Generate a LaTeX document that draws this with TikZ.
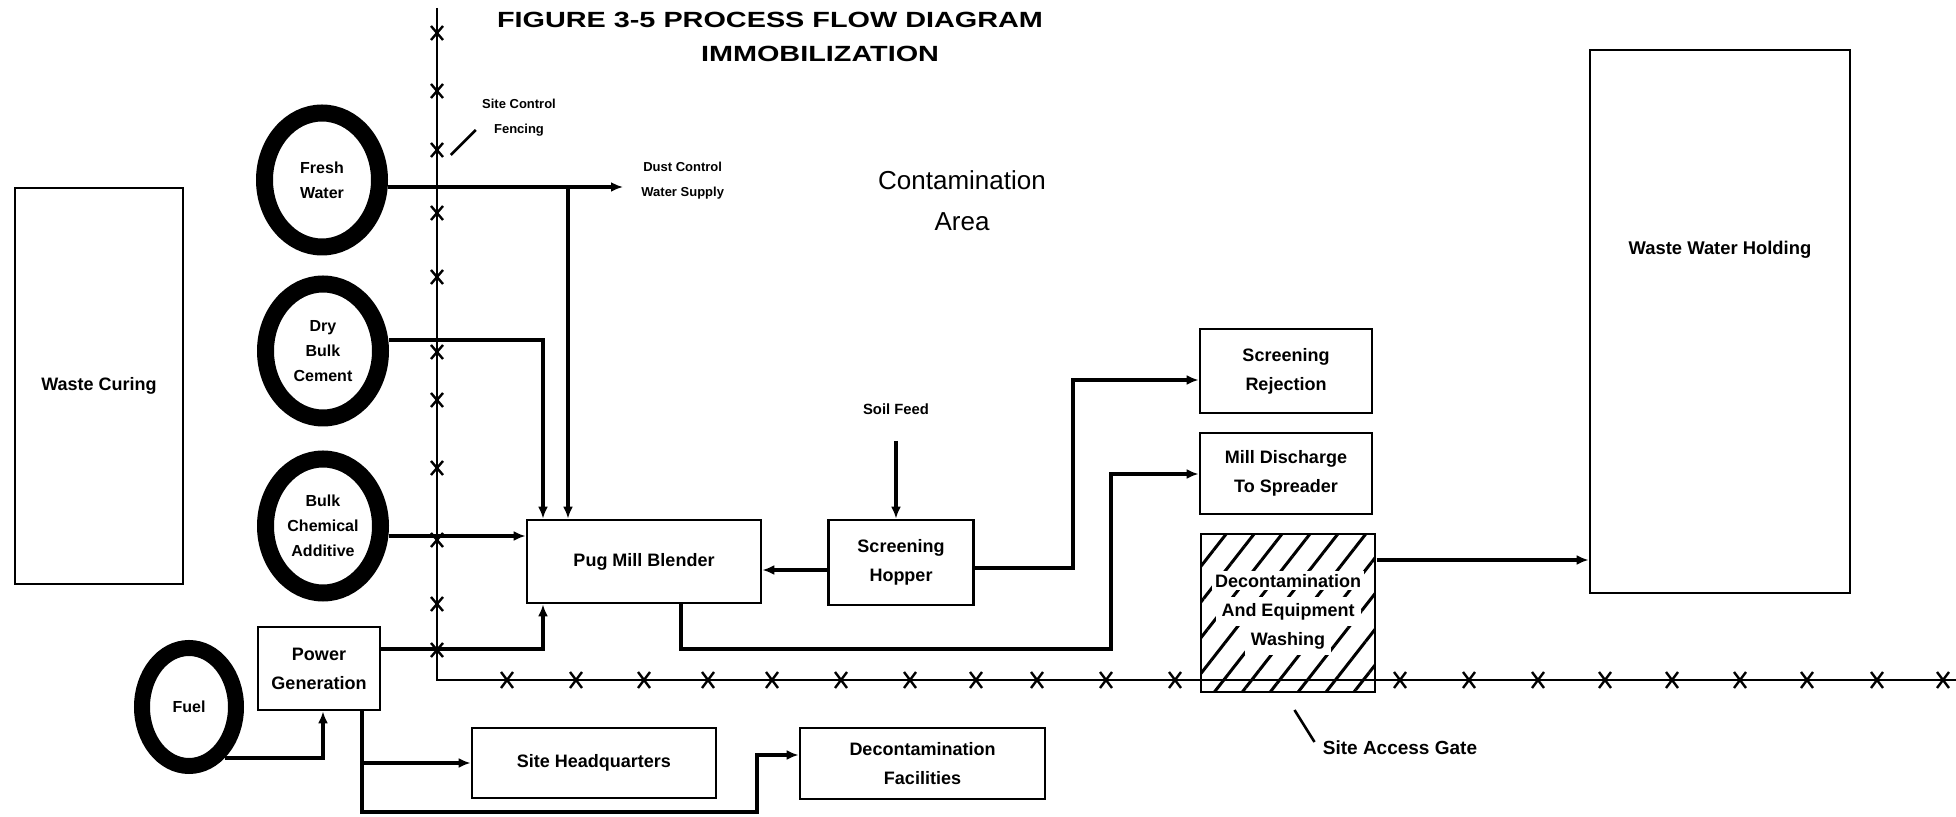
\documentclass[tikz,border=0pt]{standalone}
\usepackage{fontspec}
\setmainfont{Liberation Sans}
\usetikzlibrary{arrows.meta,shapes.geometric,patterns.meta}
\begin{document}
\begin{tikzpicture}[x=0.5pt,y=-0.5pt,
  lbl/.style={font=\fontsize{6.5}{12.5}\selectfont\bfseries, align=center, inner sep=1pt},
  box/.style={draw, line width=1.35pt, rectangle, inner sep=2pt, font=\fontsize{9}{14.5}\selectfont\bfseries, align=center},
  ring/.style={ellipse, draw, line width=8.5pt, fill=white, minimum width=57.5pt, minimum height=67pt, inner sep=0pt, font=\fontsize{8}{12.5}\selectfont\bfseries, align=center},
  conn/.style={line width=1.6pt},
  arr/.style={conn, -{Latex[length=6pt,width=5pt]}},
  fence/.style={line width=1.2pt},
  lead/.style={line width=1.3pt},
]
\useasboundingbox (0,0) rectangle (1956,817);

% title
\node[font=\fontsize{11}{13}\selectfont\bfseries, inner sep=0pt] (title1) at (770,20) {\scalebox{1.31}[1]{FIGURE 3-5 PROCESS FLOW DIAGRAM}};
\node[font=\fontsize{11}{13}\selectfont\bfseries, inner sep=0pt] (title2) at (820,54) {\scalebox{1.31}[1]{IMMOBILIZATION}};

% fence
\coordinate (ftop) at (437,8);
\coordinate (fcorner) at (437,680);
\coordinate (fright) at (1956,680);
\draw[fence] (ftop) -- (fcorner) -- (fright);
\foreach \y in {33,91,150,213,277,352,400,468,540,604,650}
  \draw[fence] (437,\y) ++(-6,-7) -- ++(12,14) ++(0,-14) -- ++(-12,14);
\foreach \x in {507,576,644,708,772,841,910,976,1037,1106,1175,1400,1469,1538,1605,1672,1740,1807,1877,1943}
  \draw[fence] (\x,680) ++(-6,-8) -- ++(12,16) ++(0,-16) -- ++(-12,16);

% nodes
\node[box, minimum width=84pt, minimum height=198pt] (wc) at (99,386) {Waste Curing};
\node[ring] (fw) at (322,180) {Fresh\\Water};
\node[ring] (dbc) at (323,351) {Dry\\Bulk\\Cement};
\node[ring] (bca) at (323,526) {Bulk\\Chemical\\Additive};
\node[ring, minimum width=47pt, minimum height=59pt, line width=8pt] (fuel) at (189,707) {Fuel};
\node[box, minimum width=61pt, minimum height=41.5pt] (pg) at (319,668.5) {Power\\Generation};
\node[box, minimum width=117pt, minimum height=41.5pt] (pm) at (644,561.5) {Pug Mill Blender};
\node[box, minimum width=72.5pt, minimum height=42.5pt] (sh) at (901,562.5) {Screening\\Hopper};
\node[box, minimum width=86pt, minimum height=42pt] (sr) at (1286,371) {Screening\\Rejection};
\node[box, minimum width=86pt, minimum height=40.5pt] (md) at (1286,473.5) {Mill Discharge\\To Spreader};
\node[box, minimum width=87pt, minimum height=79pt, pattern={Lines[angle=52,distance=11pt,line width=1.5pt]}, pattern color=black] (dw) at (1288,613)
  {\setlength{\fboxsep}{1.5pt}\colorbox{white}{Decontamination}\\\colorbox{white}{And Equipment}\\\colorbox{white}{Washing}};
\node[box, minimum width=130pt, minimum height=271.5pt] (wwh) at (1720,321.5) {};
\node[font=\fontsize{9.2}{11}\selectfont\bfseries] (wwhl) at (1720,250) {Waste Water Holding};
\node[box, minimum width=122pt, minimum height=35pt] (shq) at (594,763) {Site Headquarters};
\node[box, minimum width=122.5pt, minimum height=35.5pt] (dfac) at (922.5,763.5) {Decontamination\\Facilities};

% labels
\node[lbl] (scf) at (519,118) {Site Control\\Fencing};
\node[lbl, anchor=west] (dust) at (639,181) {Dust Control\\Water Supply};
\node[lbl, font=\fontsize{7.4}{9}\selectfont\bfseries] (soil) at (896,409) {Soil Feed};
\node[lbl, font=\fontsize{9.5}{11}\selectfont\bfseries] (sag) at (1400,748) {Site Access Gate};
\node[font=\fontsize{13}{20.5}\selectfont, align=center] (ca) at (962,201) {Contamination\\Area};

% leaders
\draw[lead] ([shift={(-2pt,-6pt)}]scf.west) -- ++(-25,25);
\draw[lead] ([shift={(-3pt,3pt)}]sag.west) -- ++(-20,-32);

% connectors
\coordinate (fwbranch) at (568,187);
\draw[arr] (fw.east |- fwbranch) -- ([xshift=-8pt]dust.west |- fwbranch);
\draw[arr] (fwbranch) -- (fwbranch |- pm.north);
\draw[arr] (dbc.east |- 0,340) -- (543,340) -- (543,340 |- pm.north);
\draw[arr] (bca.east |- 0,536) -- (pm.west |- 0,536);
\draw[arr] (pg.east |- 0,649) -- (543,649) -- (543,649 |- pm.south);
\draw[arr] (fuel.-55) -- (fuel.-55 -| 323,0) -- (323,0 |- pg.south);
\draw[arr] (362,0 |- pg.south) -- (362,0 |- shq.west) -- (shq.west);
\draw[arr] (362,0 |- pg.south) -- (362,812) -- (757,812) -- (757,755) -- (dfac.west |- 0,755);
\draw[arr] ([yshift=-12pt]soil.south) -- (soil.south |- sh.north);
\draw[arr] (sh.west |- 0,570) -- (pm.east |- 0,570);
\draw[arr] (sh.east |- 0,568) -- (1073,568) -- (1073,380) -- (sr.west |- 0,380);
\draw[arr] (681,0 |- pm.south) -- (681,649) -- (1111,649) -- (1111,474) -- (md.west |- 0,474);
\draw[arr] (dw.east |- 0,560) -- (wwh.west |- 0,560);
\end{tikzpicture}
\end{document}
